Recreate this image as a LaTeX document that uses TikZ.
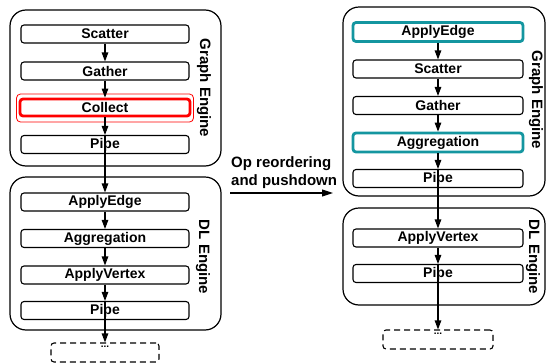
\documentclass[tikz,border=0pt]{standalone}
\usepackage{fontspec}
\setmainfont{Liberation Sans}
\usepackage{xcolor}
\usetikzlibrary{arrows.meta}
\definecolor{opteal}{RGB}{20,150,160}

\begin{document}
\begin{tikzpicture}[x=1pt, y=-1pt,
  font=\bfseries\fontsize{14}{16}\selectfont,
  opbox/.style={draw, rectangle, rounded corners=3pt, line width=1.1pt, minimum width=168pt, minimum height=18pt, inner sep=0pt},
  engine/.style={draw, rounded corners=16pt, line width=1.2pt},
  enginelabel/.style={rotate=-90, font=\bfseries\fontsize{15}{17}\selectfont},
  dotbox/.style={draw, dash pattern=on 6pt off 4pt, rounded corners=3pt, line width=1.1pt, minimum width=108pt, minimum height=19pt, inner sep=0pt},
  arr/.style={-{Triangle[length=9pt,width=6.5pt]}, line width=1.1pt}]
\useasboundingbox (0,0) rectangle (547,362);

% before: graph engine and DL engine
\draw[engine] (10,10) rectangle (221,166);
\node[enginelabel] (glabel) at (204,88) {Graph Engine};
\node[opbox] (gscat) at (105,34) {Scatter};
\node[opbox] (ggath) at (105,71) {Gather};
\node[opbox, draw=red, line width=2.8pt, minimum width=170pt, minimum height=17pt] (gcoll) at (105,107.5) {Collect};
\node[draw=red, line width=0.8pt, rounded corners=4pt, minimum width=177pt, minimum height=28pt, inner sep=0pt] (gcollring) at (105,108) {};
\node[opbox] (gpipe) at (105,144.5) {Pipe};

\draw[engine] (10,177) rectangle (221,330);
\node[enginelabel] (dlabel) at (203,257) {DL Engine};
\node[opbox] (dedge) at (105,202) {ApplyEdge};
\node[opbox] (dagg) at (105,238.5) {Aggregation};
\node[opbox] (dvert) at (105,275) {ApplyVertex};
\node[opbox] (dpipe) at (105,310.5) {Pipe};
\node[dotbox, minimum width=108pt] (dmore) at (105,352.5) {};
\node[anchor=center, font=\bfseries\fontsize{10}{10}\selectfont] (dmoretext) at (105,347) {...};

\draw[arr] (gscat) -- (ggath);
\draw[arr] (ggath) -- (gcoll);
\draw[arr] (gcoll) -- (gpipe);
\draw[arr] (gpipe.north) -- (dedge);
\draw[arr] (dedge) -- (dagg);
\draw[arr] (dagg) -- (dvert);
\draw[arr] (dvert) -- (dpipe);
\draw[arr] (dpipe.north) -- (dmore);

% transformation
\coordinate (tfrom) at (230,193);
\coordinate (tto) at (333,193);
\node[anchor=north west, align=left, inner sep=0pt, font=\bfseries\fontsize{15}{18}\selectfont] (tlabel) at (231,156) {Op reordering\\and pushdown};
\draw[arr, -{Triangle[length=11pt,width=7pt]}] (tfrom) -- (tto);

% after: graph engine and DL engine
\draw[engine] (343,7) rectangle (545,196);
\node[enginelabel] (rglabel) at (536,100) {Graph Engine};
\node[opbox, draw=opteal, line width=2.8pt, minimum width=170pt, minimum height=19pt] (rapp) at (438,32) {ApplyEdge};
\node[opbox, minimum width=170pt] (rscat) at (438,69) {Scatter};
\node[opbox, minimum width=170pt] (rgath) at (438,105.5) {Gather};
\node[opbox, draw=opteal, line width=2.8pt, minimum width=170pt, minimum height=19pt] (ragg) at (438,142.5) {Aggregation};
\node[opbox, minimum width=170pt] (rpipe) at (438,178.5) {Pipe};

\draw[engine] (343,208) rectangle (545,305);
\node[enginelabel] (rdlabel) at (533,257) {DL Engine};
\node[opbox, minimum width=170pt] (rvert) at (438,238) {ApplyVertex};
\node[opbox, minimum width=170pt] (rdpipe) at (438,273.5) {Pipe};
\node[dotbox, minimum width=110pt] (rmore) at (438,339.5) {};
\node[anchor=center, font=\bfseries\fontsize{10}{10}\selectfont] (rmoretext) at (438,334) {...};

\draw[arr] (rapp) -- (rscat);
\draw[arr] (rscat) -- (rgath);
\draw[arr] (rgath) -- (ragg);
\draw[arr] (ragg) -- (rpipe);
\draw[arr] (rpipe.north) -- (rvert);
\draw[arr] (rvert) -- (rdpipe);
\draw[arr] (rdpipe.north) -- (rmore);
\end{tikzpicture}
\end{document}
